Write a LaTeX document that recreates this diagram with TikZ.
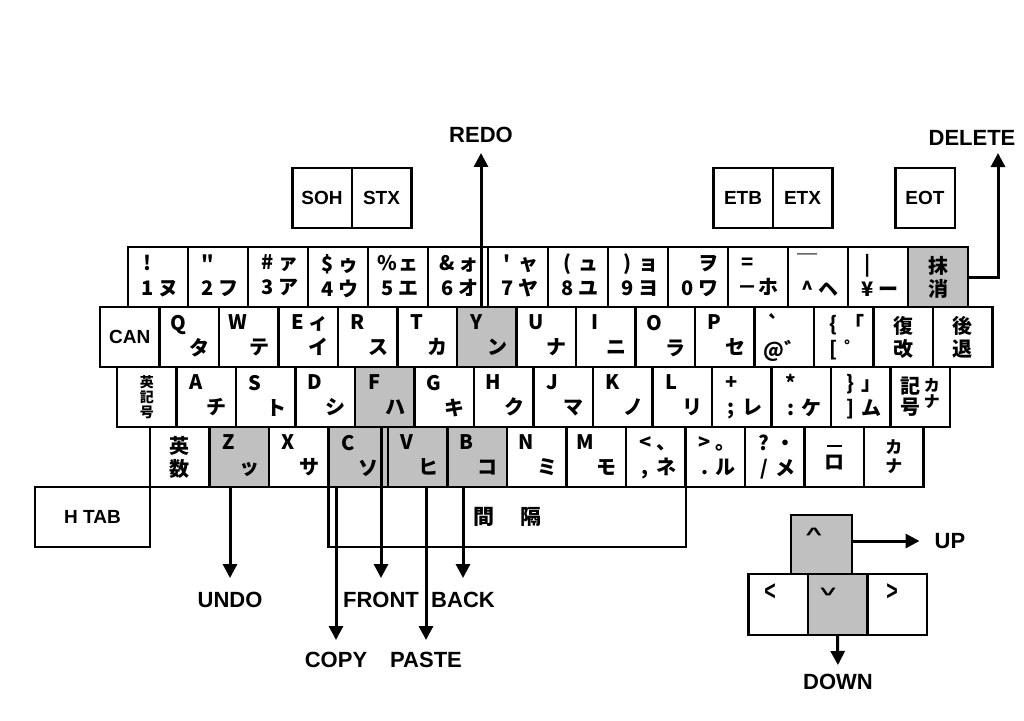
\documentclass[tikz,border=0pt]{standalone}
\usepackage{fontspec}
\setmainfont{Liberation Sans}
\newfontfamily\jpfont{Noto Sans CJK JP}
\usepackage{tikz}
\usetikzlibrary{arrows.meta, positioning, calc}
\definecolor{keygray}{RGB}{192, 192, 192}
\newcommand{\kcap}[4]{\makebox[21pt]{#1}\makebox[21pt]{#2}\rule[-4pt]{0pt}{18pt}\\\makebox[21pt]{#3}\makebox[21pt]{#4}\rule[-4pt]{0pt}{18pt}}

\begin{document}
\begin{tikzpicture}[x=1pt, y=-1pt,
    key/.style={draw, line width=2.5pt, minimum width=59.5pt, minimum height=60pt, inner sep=0pt, outer sep=0pt, align=center, font=\jpfont\bfseries\fontsize{20}{25}\selectfont},
    fkey/.style={key, fill=keygray},
    ctl/.style={key, font=\bfseries\fontsize{19}{22}\selectfont},
    lbl/.style={font=\bfseries\fontsize{22}{26}\selectfont, inner sep=2pt},
    arr/.style={-{Triangle[width=14pt, length=14pt]}, line width=3pt},
    chev/.style={font=\bfseries\fontsize{28}{28}\selectfont, inner sep=0pt}
]
\useasboundingbox (0,0) rectangle (1024,720);

% control codes on top
\node[ctl] (soh) at (322,198) {SOH};
\node[ctl, right=0pt of soh] (stx) {STX};
\node[ctl] (etb) at (743,198) {ETB};
\node[ctl, right=0pt of etb] (etx) {ETX};
\node[ctl] (eot) at (925,198) {EOT};

% number row
\begin{scope}[key/.append style={minimum width=60pt}]
\node[key] (k1) at (158,277) {\kcap{!}{}{1}{ヌ}};
\node[key, right=0pt of k1] (k2) {\kcap{"}{}{2}{フ}};
\node[key, right=0pt of k2] (k3) {\kcap{\#}{ァ}{3}{ア}};
\node[key, right=0pt of k3] (k4) {\kcap{\$}{ゥ}{4}{ウ}};
\node[key, right=0pt of k4] (k5) {\kcap{\%}{ェ}{5}{エ}};
\node[key, right=0pt of k5] (k6) {\kcap{\&}{ォ}{6}{オ}};
\node[key, right=0pt of k6] (k7) {\kcap{\textquotesingle}{ャ}{7}{ヤ}};
\node[key, right=0pt of k7] (k8) {\kcap{(}{ュ}{8}{ユ}};
\node[key, right=0pt of k8] (k9) {\kcap{)}{ョ}{9}{ヨ}};
\node[key, right=0pt of k9] (k0) {\kcap{}{ヲ}{0}{ワ}};
\node[key, right=0pt of k0] (kminus) {\kcap{=}{}{－}{ホ}};
\node[key, right=0pt of kminus] (kcaret) {\kcap{￣}{}{\textasciicircum}{ヘ}};
\node[key, right=0pt of kcaret] (kyen) {\kcap{|}{}{¥}{ー}};
\node[fkey, right=0pt of kyen] (kdel) {抹\\[-2pt]消};
\end{scope}

% upper row
\node[ctl] (can) at (129.75,337) {CAN};
\node[key, right=0pt of can] (kq) {\kcap{Q}{}{}{タ}};
\node[key, right=0pt of kq] (kw) {\kcap{W}{}{}{テ}};
\node[key, right=0pt of kw] (ke) {\kcap{E}{ィ}{}{イ}};
\node[key, right=0pt of ke] (kr) {\kcap{R}{}{}{ス}};
\node[key, right=0pt of kr] (kt) {\kcap{T}{}{}{カ}};
\node[fkey, right=0pt of kt] (ky) {\kcap{Y}{}{}{ン}};
\node[key, right=0pt of ky] (ku) {\kcap{U}{}{}{ナ}};
\node[key, right=0pt of ku] (ki) {\kcap{I}{}{}{ニ}};
\node[key, right=0pt of ki] (ko) {\kcap{O}{}{}{ラ}};
\node[key, right=0pt of ko] (kp) {\kcap{P}{}{}{セ}};
\node[key, right=0pt of kp] (kat) {\kcap{\textasciigrave}{}{@}{゛}};
\node[key, right=0pt of kat] (klbrack) {\kcap{\{}{「}{[}{゜}};
\node[key, right=0pt of klbrack] (kfukkai) {復\\[-2pt]改};
\node[key, right=0pt of kfukkai] (kkoutai) {後\\[-2pt]退};

% home row
\node[key, font=\jpfont\bfseries\fontsize{14}{15}\selectfont] (keikigo) at (146.75,397) {英\\記\\号};
\node[key, right=0pt of keikigo] (ka) {\kcap{A}{}{}{チ}};
\node[key, right=0pt of ka] (ks) {\kcap{S}{}{}{ト}};
\node[key, right=0pt of ks] (kd) {\kcap{D}{}{}{シ}};
\node[fkey, right=0pt of kd] (kf) {\kcap{F}{}{}{ハ}};
\node[key, right=0pt of kf] (kg) {\kcap{G}{}{}{キ}};
\node[key, right=0pt of kg] (kh) {\kcap{H}{}{}{ク}};
\node[key, right=0pt of kh] (kj) {\kcap{J}{}{}{マ}};
\node[key, right=0pt of kj] (kk) {\kcap{K}{}{}{ノ}};
\node[key, right=0pt of kk] (kl) {\kcap{L}{}{}{リ}};
\node[key, right=0pt of kl] (ksemi) {\kcap{+}{}{;}{レ}};
\node[key, right=0pt of ksemi] (kcolon) {\kcap{*}{}{:}{ケ}};
\node[key, right=0pt of kcolon] (krbrack) {\kcap{\}}{」}{]}{ム}};
\node[key, right=0pt of krbrack] (kkigo) {\shortstack{記\\号}\,\raisebox{7pt}{\fontsize{16}{16}\selectfont\shortstack{カ\\ナ}}};

% lower row
\node[key] (keisu) at (179.75,457) {英\\[-2pt]数};
\node[fkey, right=0pt of keisu] (kz) {\kcap{Z}{}{}{ッ}};
\node[key, right=0pt of kz] (kx) {\kcap{X}{}{}{サ}};
\node[fkey, right=0pt of kx] (kc) {\kcap{C}{}{}{ソ}};
\node[fkey, right=0pt of kc] (kv) {\kcap{V}{}{}{ヒ}};
\node[fkey, right=0pt of kv] (kb) {\kcap{B}{}{}{コ}};
\node[key, right=0pt of kb] (kn) {\kcap{N}{}{}{ミ}};
\node[key, right=0pt of kn] (km) {\kcap{M}{}{}{モ}};
\node[key, right=0pt of km] (kcomma) {\kcap{<}{、}{,}{ネ}};
\node[key, right=0pt of kcomma] (kperiod) {\kcap{>}{。}{.}{ル}};
\node[key, right=0pt of kperiod] (kslash) {\kcap{?}{・}{/}{メ}};
\node[key, right=0pt of kslash] (kro) {\rule{15pt}{2.5pt}\\[-3pt]ロ};
\node[key, font=\jpfont\bfseries\fontsize{17}{19}\selectfont, right=0pt of kro] (kkana) {カ\\ナ};

% space bar and tab
\node[key, font=\jpfont\bfseries\fontsize{21}{24}\selectfont, minimum width=357.5pt, anchor=north west] (space) at (kc.south west) {間\hspace{26pt}隔};
\node[ctl, minimum width=115pt, anchor=north east] (htab) at (keisu.south west) {H TAB};

% cursor keys
\node[fkey, minimum width=61pt, minimum height=59pt, anchor=south west] (up) at (791,574) {};
\node[key, minimum height=61pt] (left) at (778,604.5) {};
\node[fkey, minimum height=61pt, right=0pt of left] (down) {};
\node[key, minimum height=61pt, right=0pt of down] (right) {};
\node[chev, rotate=-90] (upsym) at (813,532) {\scalebox{0.55}[1]{<}};
\node[chev] (leftsym) at (770,592) {\scalebox{0.7}[1]{<}};
\node[chev, rotate=90] (downsym) at (829,592) {\scalebox{0.55}[1]{<}};
\node[chev] (rightsym) at (892,592) {\scalebox{0.7}[1]{>}};

% labels
\node[lbl] (redo) at (481,135) {REDO};
\node[lbl] (delete) at (972,138) {DELETE};
\node[lbl] (undo) at (230,600) {UNDO};
\node[lbl] (front) at (381,600) {FRONT};
\node[lbl] (back) at (463,600) {BACK};
\node[lbl] (copy) at (336,660) {COPY};
\node[lbl] (paste) at (426,660) {PASTE};
\node[lbl] (uplbl) at (950,541) {UP};
\node[lbl] (downlbl) at (838,682) {DOWN};
\coordinate (deltip) at (998,153);

\draw[arr, shorten >=8pt] (ky.north -| redo) -- (redo.south);
\draw[arr] (kdel.east) -| (deltip);
\draw[arr, shorten >=12pt] (kz.south -| undo) -- (undo.north);
\draw[arr, shorten >=12pt] (kf.south -| front) -- (front.north);
\draw[arr, shorten >=12pt] (kb.south -| back) -- (back.north);
\draw[arr, shorten >=10pt] (kc.south -| copy) -- (copy.north);
\draw[arr, shorten >=10pt] (kv.south -| paste) -- (paste.north);
\draw[arr, shorten >=13pt] (up.east |- uplbl) -- (uplbl.west);
\draw[arr, shorten >=7pt] (down.south) -- (downlbl.north);
\end{tikzpicture}
\end{document}
